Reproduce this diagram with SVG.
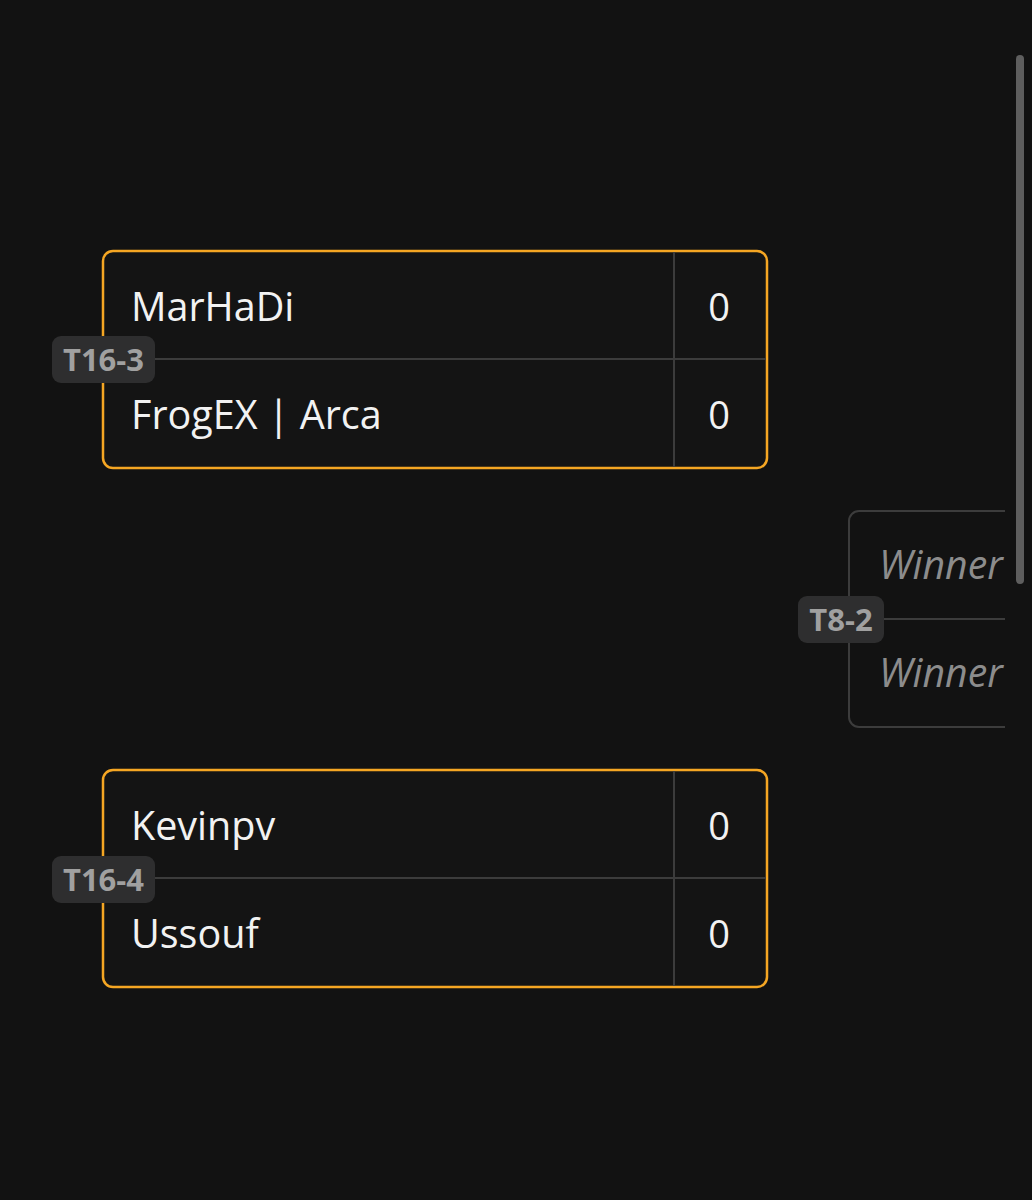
<svg xmlns="http://www.w3.org/2000/svg" width="1032" height="1200" viewBox="0 0 1032 1200">
<style>
.bg{fill:#121212}
.box{fill:#141414;stroke:#f5a623;stroke-width:2.5}
.box2{fill:none;stroke:#3c3c3c;stroke-width:2}
.div{stroke:#3c3c3c;stroke-width:2}
.name{font-family:"Open Sans",sans-serif;font-size:39.5px;fill:#f2f2f2}
.score{font-family:"Open Sans",sans-serif;font-size:38px;fill:#f2f2f2;text-anchor:middle}
.win{font-family:"Open Sans",sans-serif;font-style:italic;font-size:39.3px;fill:#8c8c8c}
.badge{fill:#2e2e2f}
.btxt{font-family:"Open Sans",sans-serif;font-weight:bold;font-size:31px;fill:#a0a0a0;text-anchor:middle}
</style>
<rect class="bg" x="0" y="0" width="1032" height="1200"/>
<g id="connectors"></g>
<g id="T16-3">
<rect class="box" x="103" y="251" width="664" height="217" rx="10"/>
<line class="div" x1="104" y1="359" x2="766" y2="359"/>
<line class="div" x1="674" y1="252" x2="674" y2="467"/>
<text class="name" x="131" y="321">MarHaDi</text>
<text class="name" x="131" y="429">FrogEX | Arca</text>
<text class="score" x="719" y="321">0</text>
<text class="score" x="719" y="429">0</text>
<rect class="badge" x="52" y="336" width="103" height="47" rx="9"/>
<text class="btxt" x="103.5" y="371">T16-3</text>
</g>
<g id="T16-4">
<rect class="box" x="103" y="770" width="664" height="217" rx="10"/>
<line class="div" x1="104" y1="878" x2="766" y2="878"/>
<line class="div" x1="674" y1="771" x2="674" y2="986"/>
<text class="name" x="131" y="840">Kevinpv</text>
<text class="name" x="131" y="948">Ussouf</text>
<text class="score" x="719" y="840">0</text>
<text class="score" x="719" y="948">0</text>
<rect class="badge" x="52" y="856" width="103" height="47" rx="9"/>
<text class="btxt" x="103.5" y="891">T16-4</text>
</g>
<g id="T8-2">
<path class="box2" d="M1005 511 H859 A10 10 0 0 0 849 521 V717 A10 10 0 0 0 859 727 H1005"/>
<line class="div" x1="850" y1="619" x2="1005" y2="619"/>
<text class="win" x="879" y="579">Winner</text>
<text class="win" x="879" y="687">Winner</text>
<rect class="badge" x="798" y="596" width="86" height="47" rx="9"/>
<text class="btxt" x="841" y="631">T8-2</text>
</g>
<rect x="1016" y="55" width="8" height="529" rx="4" fill="#5e5e5e"/>
</svg>
